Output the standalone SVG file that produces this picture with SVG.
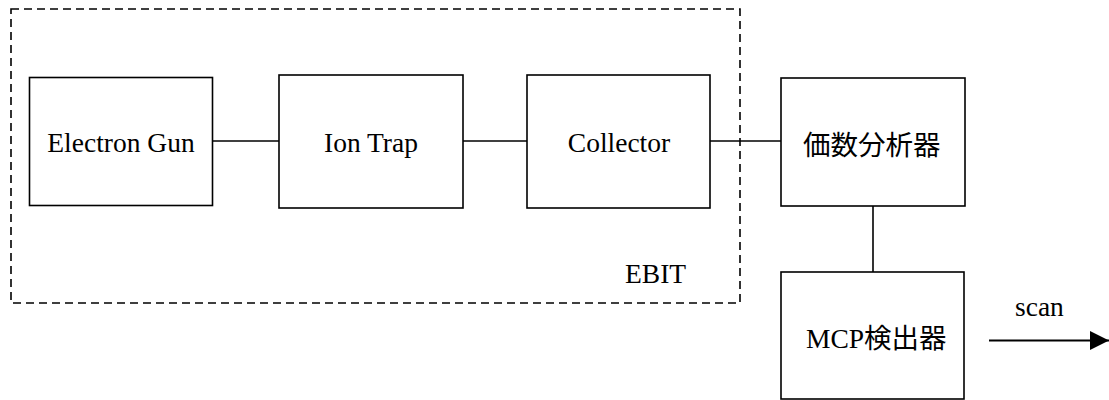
<svg xmlns="http://www.w3.org/2000/svg" width="1109" height="400" viewBox="0 0 1109 400">
<style>
.box{fill:#fff;stroke:#000;stroke-width:1.6}
.ln{fill:none;stroke:#000;stroke-width:1.6}
.dash{fill:none;stroke:#000;stroke-width:1.6;stroke-dasharray:8 5}
text{font-size:27.5px;fill:#000}
</style>
<defs>
<marker id="arr" markerWidth="19" markerHeight="19" refX="19" refY="9.5" orient="auto" markerUnits="userSpaceOnUse" viewBox="0 0 19 19">
<path d="M0,0 L19,9.5 L0,19 Z" fill="#000"/>
</marker>
</defs>
<g id="ebit">
<rect class="dash" x="11" y="9" width="729" height="294"/>
<text font-family="Liberation Serif, serif" x="625" y="283">EBIT</text>
</g>
<g id="connectors">
<line class="ln" x1="212" y1="141" x2="279" y2="141"/>
<line class="ln" x1="463" y1="141" x2="527" y2="141"/>
<line class="ln" x1="710" y1="141" x2="781" y2="141"/>
<line class="ln" x1="873" y1="206" x2="873" y2="272"/>
<line x1="989" y1="340.5" x2="1109" y2="340.5" stroke="#000" stroke-width="1.8" marker-end="url(#arr)"/>
<text font-family="Liberation Serif, serif" x="1015" y="316">scan</text>
</g>
<g id="electron-gun">
<rect class="box" x="29.5" y="77.5" width="183" height="128"/>
<text font-family="Liberation Serif, serif" x="121" y="151.5" text-anchor="middle">Electron Gun</text>
</g>
<g id="ion-trap">
<rect class="box" x="279" y="75" width="184" height="133"/>
<text font-family="Liberation Serif, serif" x="371" y="152" text-anchor="middle">Ion Trap</text>
</g>
<g id="collector">
<rect class="box" x="527" y="75" width="183" height="133"/>
<text font-family="Liberation Serif, serif" x="619" y="152" text-anchor="middle">Collector</text>
</g>
<g id="analyzer">
<rect class="box" x="781" y="78" width="184" height="128"/>
<text font-family="Noto Sans CJK JP, sans-serif" font-size="27" x="803" y="154.5">価数分析器</text>
</g>
<g id="mcp">
<rect class="box" x="781" y="272" width="183" height="127"/>
<text font-family="Liberation Serif, Noto Sans CJK JP, serif" x="806" y="348">MCP<tspan font-family="Noto Sans CJK JP, sans-serif">検出器</tspan></text>
</g>
</svg>
